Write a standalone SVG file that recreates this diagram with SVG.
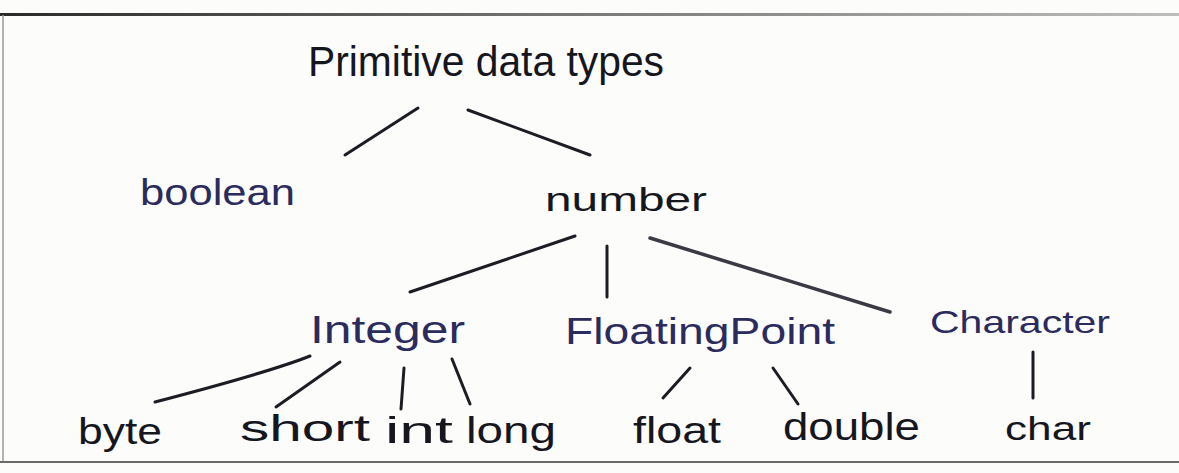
<svg xmlns="http://www.w3.org/2000/svg" width="1179" height="473" viewBox="0 0 1179 473">
  <style>
    .lbl { font-family: "Liberation Sans", "DejaVu Sans", sans-serif; fill: #16161e; }
    .blue { fill: #2b2b5e; }
    .edge { stroke: #1c1c24; stroke-width: 3; stroke-linecap: round; fill: none; }
    .soft { stroke: #3a3a44; stroke-width: 3.5; }
  </style>

  <!-- paper -->
  <rect x="0" y="0" width="1179" height="473" fill="#fcfcfb"/>
  <defs>
    <linearGradient id="topRule" x1="0" y1="0" x2="1" y2="0">
      <stop offset="0" stop-color="#2a2a2a"/>
      <stop offset="0.5" stop-color="#7a7a7a"/>
      <stop offset="1" stop-color="#bdbdbd"/>
    </linearGradient>
  </defs>
  <rect x="0" y="13" width="1179" height="3" fill="url(#topRule)"/>
  <line x1="3" y1="15" x2="3" y2="462" stroke="#9a9a9a" stroke-width="1.5"/>
  <line x1="0" y1="462" x2="1179" y2="462" stroke="#6a6a6a" stroke-width="2"/>

  <!-- connectors -->
  <g id="connectors">
    <path class="edge" d="M345 155 L418 108"/>
    <path class="edge" d="M468 110 L590 155"/>
    <path class="edge" d="M410 292 L575 236"/>
    <path class="edge" d="M607 246 L607 297"/>
    <path class="edge soft" d="M650 238 L890 312"/>
    <path class="edge" d="M155 402 Q270 372 310 356"/>
    <path class="edge" d="M276 407 L340 362"/>
    <path class="edge" d="M401 409 L404 368"/>
    <path class="edge" d="M470 404 L452 359"/>
    <path class="edge" d="M663 398 L690 368"/>
    <path class="edge" d="M798 404 L773 368"/>
    <path class="edge" d="M1033 398 L1033 352"/>
  </g>

  <!-- nodes -->
  <g id="node-primitive"><text class="lbl" x="308" y="76" font-size="42" textLength="356" lengthAdjust="spacingAndGlyphs">Primitive data types</text></g>
  <g id="node-boolean"><text class="lbl blue" x="140" y="205" font-size="36" textLength="155" lengthAdjust="spacingAndGlyphs">boolean</text></g>
  <g id="node-number"><text class="lbl" x="545" y="211" font-size="34" textLength="162" lengthAdjust="spacingAndGlyphs">number</text></g>
  <g id="node-integer"><text class="lbl blue" x="310" y="343" font-size="38" textLength="155" lengthAdjust="spacingAndGlyphs">Integer</text></g>
  <g id="node-floating"><text class="lbl blue" x="565" y="344" font-size="36" textLength="270" lengthAdjust="spacingAndGlyphs">FloatingPoint</text></g>
  <g id="node-character"><text class="lbl blue" x="930" y="333" font-size="32" textLength="180" lengthAdjust="spacingAndGlyphs">Character</text></g>
  <g id="node-byte"><text class="lbl" x="78" y="444" font-size="36" textLength="84" lengthAdjust="spacingAndGlyphs">byte</text></g>
  <g id="node-short"><text class="lbl" x="240" y="441" font-size="36" textLength="130" lengthAdjust="spacingAndGlyphs">short</text></g>
  <g id="node-int"><text class="lbl" x="385" y="443" font-size="36" textLength="68" lengthAdjust="spacingAndGlyphs">int</text></g>
  <g id="node-long"><text class="lbl" x="466" y="443" font-size="36" textLength="90" lengthAdjust="spacingAndGlyphs">long</text></g>
  <g id="node-float"><text class="lbl" x="633" y="443" font-size="36" textLength="88" lengthAdjust="spacingAndGlyphs">float</text></g>
  <g id="node-double"><text class="lbl" x="783" y="440" font-size="38" textLength="137" lengthAdjust="spacingAndGlyphs">double</text></g>
  <g id="node-char"><text class="lbl" x="1005" y="440" font-size="34" textLength="86" lengthAdjust="spacingAndGlyphs">char</text></g>
</svg>
